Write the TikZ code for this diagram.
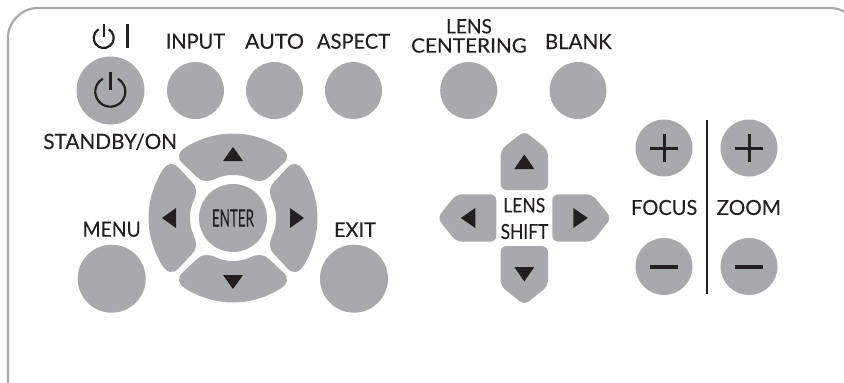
\documentclass[tikz,border=0pt]{standalone}
\usepackage{fontspec}
\setmainfont[FakeBold=0.12]{Lato}
\definecolor{btn}{HTML}{A7A9AC}
\definecolor{ink}{HTML}{231F20}
\tikzset{
  bigbtn/.style={circle,fill=btn,minimum size=57pt,inner sep=0pt},
  hugebtn/.style={circle,fill=btn,minimum size=68pt,inner sep=0pt},
  lbl/.style={text=ink,inner sep=0pt,outer sep=0pt},
  padkey/.style={fill=btn},
  tri/.style={fill=ink},
  plusline/.style={draw=ink,line width=3pt},
  minusline/.style={draw=ink,line width=4pt},
  powerline/.style={draw=ink,line width=2.2pt},
}
\newcommand{\lab}[3]{\resizebox{#1pt}{#2pt}{\color{ink}#3}}
\newcommand{\arcseg}{(-47,-71) .. controls (-32,-80) and (-16,-84.5) .. (0,-84.5) .. controls (16,-84.5) and (32,-80) .. (47,-71)
  .. controls (55,-66) and (56,-60) .. (51,-55) -- (36,-41) .. controls (31,-36) and (25,-36) .. (18,-39) .. controls (12,-42) and (6,-43) .. (0,-43)
  .. controls (-6,-43) and (-12,-42) .. (-18,-39) .. controls (-25,-36) and (-31,-36) .. (-36,-41) -- (-51,-55) .. controls (-56,-60) and (-55,-66) .. (-47,-71) -- cycle}
\newcommand{\arrowkey}{[rounded corners=6pt] (-23.7,-28) -- (-23.7,-68) -- (0,-87) -- (23.7,-68) -- (23.7,-28) -- cycle}
\begin{document}
\begin{tikzpicture}[x=1pt,y=-1pt]
\useasboundingbox (0,0) rectangle (844,383);
\clip (0,0) rectangle (844,383);
\draw[btn,line width=2.2pt,rounded corners=30pt] (8,390) -- (8,8) -- (860,8) -- (860,390);
% buttons
\node[hugebtn] (power) at (110.5,90.5) {};
\node[bigbtn] (input) at (195.5,90.5) {};
\node[bigbtn] (auto) at (274.5,90.5) {};
\node[bigbtn] (aspect) at (353.5,90.5) {};
\node[bigbtn] (centering) at (468.7,90.5) {};
\node[bigbtn] (blank) at (578,90.5) {};
\node[hugebtn] (menu) at (111.7,278.7) {};
\node[hugebtn] (exit) at (354,278.7) {};
\node[hugebtn] (enter) at (233,218) {\lab{42}{17}{ENTER}};
\node[bigbtn] (fplus) at (664,148) {};
\node[bigbtn] (zplus) at (749,148) {};
\node[bigbtn] (fminus) at (664,266.5) {};
\node[bigbtn] (zminus) at (749,266.5) {};
% labels
\node[lbl] (linput) at (195.4,41.3) {\lab{59.3}{15}{INPUT}};
\node[lbl] (lauto) at (274.5,41.3) {\lab{59}{15}{AUTO}};
\node[lbl] (laspect) at (353.5,41.3) {\lab{73}{15}{ASPECT}};
\node[lbl] (llens) at (469,26.3) {\lab{45.7}{14.4}{LENS}};
\node[lbl] (lcent) at (469,45.5) {\lab{115.7}{14.4}{CENTERING}};
\node[lbl] (lblank) at (578.3,41.5) {\lab{66.7}{15}{BLANK}};
\node[lbl] (lstandby) at (110.2,141.7) {\lab{133.7}{15.5}{STANDBY/ON}};
\node[lbl] (lmenu) at (111.7,229.3) {\lab{58}{15}{MENU}};
\node[lbl] (lexit) at (355,229.7) {\lab{42}{14.5}{EXIT}};
\node[lbl] (lshifta) at (524.3,205.3) {\lab{42}{14.5}{LENS}};
\node[lbl] (lshiftb) at (524.5,231.5) {\lab{47.7}{15}{SHIFT}};
\node[lbl] (lfocus) at (664.2,207.5) {\lab{66.3}{15}{FOCUS}};
\node[lbl] (lzoom) at (748.8,207.5) {\lab{64.3}{15}{ZOOM}};
% plus / minus
\foreach \n in {fplus,zplus}{
  \draw[plusline] ([xshift=-13.7pt]\n.center) -- ([xshift=13.7pt]\n.center);
  \draw[plusline] ([yshift=-13.7pt]\n.center) -- ([yshift=13.7pt]\n.center);
}
\foreach \n in {fminus,zminus}{
  \draw[minusline] ([xshift=-13.7pt]\n.center) -- ([xshift=13.7pt]\n.center);
}
\coordinate (divt) at (707,120);
\coordinate (divb) at (707,294);
\draw[ink,line width=2pt] (divt) -- (divb);
% pads
\foreach \a in {0,90,180,270}{
  \begin{scope}[shift={(233,218)},rotate=\a]
    \fill[padkey] \arcseg;
    \fill[tri] (0,-71) -- (-10,-57) -- (10,-57) -- cycle;
  \end{scope}
  \begin{scope}[shift={(524.3,218)},rotate=\a]
    \fill[padkey] \arrowkey;
    \fill[tri] (0,-63.5) -- (-10,-49) -- (10,-49) -- cycle;
  \end{scope}
}
% power glyphs
\draw[powerline] (110.3,91.7) ++(-60:15) arc[start angle=-60,end angle=240,radius=15];
\draw[ink,line width=2.6pt] (110.3,72) -- (110.3,90);
\draw[powerline] (103.7,38) ++(-60:10) arc[start angle=-60,end angle=240,radius=10];
\draw[ink,line width=2.2pt] (103.7,23.5) -- (103.7,37);
\draw[ink,line width=2.8pt] (127.3,24) -- (127.3,47.7);
\end{tikzpicture}
\end{document}
